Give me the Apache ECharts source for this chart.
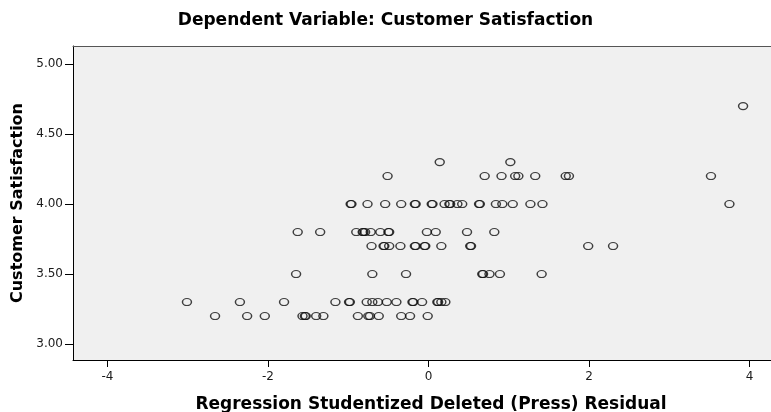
<!DOCTYPE html>
<html>
<head>
<meta charset="utf-8">
<script src="https://cdn.jsdelivr.net/npm/echarts@6/dist/echarts.min.js"></script>
<style>html,body{margin:0;padding:0;background:#fff;}#c{width:771px;height:412px;}</style>
</head>
<body>
<div id="c"></div>
<script>
// Customer Satisfaction levels and the residuals observed at each level
const satisfactionLevels = [3.2, 3.3, 3.5, 3.7, 3.8, 4.0, 4.2, 4.3, 4.7];
const residualsAt3_2 = [-2.66, -2.26, -2.04, -1.57, -1.54, -1.53, -1.40, -1.31, -0.88, -0.75, -0.73, -0.62, -0.34, -0.23, -0.01];
const residualsAt3_3 = [-3.01, -2.35, -1.80, -1.16, -0.99, -0.98, -0.77, -0.70, -0.63, -0.52, -0.40, -0.20, -0.19, -0.08, 0.11, 0.12, 0.16, 0.21];
const residualsAt3_5 = [-1.65, -0.70, -0.28, 0.67, 0.68, 0.76, 0.89, 1.41];
const residualsAt3_7 = [-0.71, -0.56, -0.55, -0.49, -0.35, -0.17, -0.16, -0.05, -0.04, 0.16, 0.52, 0.53, 1.99, 2.30];
const residualsAt3_8 = [-1.63, -1.35, -0.90, -0.82, -0.81, -0.79, -0.72, -0.60, -0.50, -0.49, -0.02, 0.09, 0.48, 0.82];
const residualsAt4_0 = [-0.97, -0.96, -0.76, -0.54, -0.34, -0.17, -0.16, 0.04, 0.05, 0.20, 0.26, 0.27, 0.36, 0.42, 0.63, 0.64, 0.84, 0.92, 1.05, 1.27, 1.42, 3.75];
const residualsAt4_2 = [-0.51, 0.70, 0.91, 1.08, 1.12, 1.33, 1.71, 1.75, 3.52];
const residualsAt4_3 = [0.14, 1.02];
const residualsAt4_7 = [3.92];

const xTicks = [-4, -2, 0, 2, 4];
const yTicks = [3.0, 3.5, 4.0, 4.5, 5.0];

const titleText = 'Dependent Variable: Customer Satisfaction';
const xTitle = 'Regression Studentized Deleted (Press) Residual';
const yTitle = 'Customer Satisfaction';

const residualGroups = [residualsAt3_2, residualsAt3_3, residualsAt3_5, residualsAt3_7, residualsAt3_8,
                        residualsAt4_0, residualsAt4_2, residualsAt4_3, residualsAt4_7];
const points = [];
residualGroups.forEach((g, i) => g.forEach(x => points.push([x, satisfactionLevels[i]])));

const X_MIN = -4.43, X_MAX = 4.268;

const chart = echarts.init(document.getElementById('c'), null, {renderer: 'canvas'});
chart.setOption({
  animation: false,
  backgroundColor: '#ffffff',
  title: {
    text: titleText,
    left: 'center',
    top: 7,
    textStyle: {fontFamily: 'DejaVu Sans', fontWeight: 'bold', fontSize: 17, color: '#000'}
  },
  grid: {
    left: 73, right: 0, top: 46, bottom: 52,
    outerBoundsMode: 'none',
    containLabel: false,
    show: true, backgroundColor: '#f0f0f0', borderWidth: 0
  },
  xAxis: [{
    type: 'value',
    min: X_MIN, max: X_MAX,
    name: xTitle,
    nameLocation: 'middle',
    nameGap: 36,
    nameTextStyle: {fontFamily: 'DejaVu Sans', fontWeight: 'bold', fontSize: 17, color: '#000', padding: [0, 0, 0, 18]},
    splitLine: {show: false},
    axisLine: {show: true, onZero: false, lineStyle: {color: '#000', width: 1}},
    axisTick: {show: true, length: 7, customValues: xTicks, lineStyle: {color: '#000'}},
    axisLabel: {customValues: xTicks, margin: 11, fontFamily: 'DejaVu Sans', fontSize: 12, color: '#1a1a1a',
                formatter: v => String(v)}
  }, {
    type: 'value',
    position: 'top',
    min: X_MIN, max: X_MAX,
    splitLine: {show: false},
    axisLine: {show: true, onZero: false, lineStyle: {color: '#555', width: 1}},
    axisTick: {show: false},
    axisLabel: {show: false}
  }],
  yAxis: {
    type: 'value',
    min: 2.886, max: 5.129,
    name: yTitle,
    nameLocation: 'middle',
    nameGap: 46,
    nameRotate: 90,
    nameTextStyle: {fontFamily: 'DejaVu Sans', fontWeight: 'bold', fontSize: 16, color: '#000'},
    splitLine: {show: false},
    axisLine: {show: true, onZero: false, lineStyle: {color: '#000', width: 1}},
    axisTick: {show: true, length: 8, customValues: yTicks, lineStyle: {color: '#000'}},
    axisLabel: {customValues: yTicks, margin: 10, fontFamily: 'DejaVu Sans', fontSize: 12, color: '#1a1a1a',
                formatter: v => Number(v).toFixed(2)}
  },
  series: [{
    type: 'scatter',
    xAxisIndex: 0,
    data: points,
    symbol: 'circle',
    symbolSize: [9, 7],
    itemStyle: {color: 'rgba(0,0,0,0)', borderColor: '#111', borderWidth: 1.3},
    emphasis: {disabled: true}
  }]
});
</script>
</body>
</html>
